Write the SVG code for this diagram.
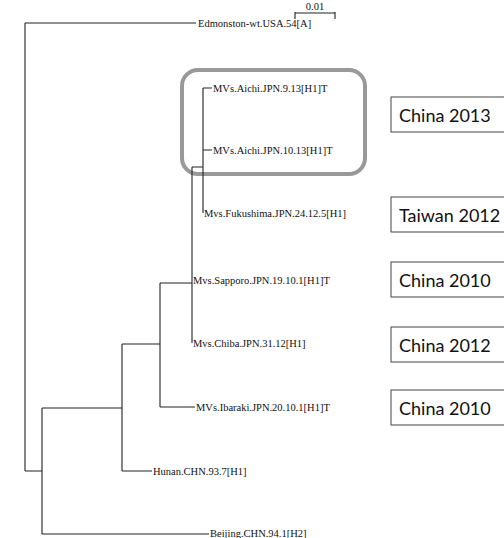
<svg xmlns="http://www.w3.org/2000/svg" width="504" height="538" viewBox="0 0 504 538">
<style>
.br{fill:none;stroke:#222;stroke-width:1.1}
.lb{font-family:"Liberation Serif",serif;font-size:10.5px;fill:#111}
.bx{fill:#fff;stroke:#444;stroke-width:1}
.bt{font-family:Lato,"Open Sans",sans-serif;font-size:18px;fill:#111}
.hl{fill:none;stroke:#999;stroke-width:4}
</style>
<rect width="504" height="538" fill="#fff"/>
<g id="highlight"><rect class="hl" x="182" y="70" width="183" height="104" rx="16"/></g>
<g id="connectors">
<path class="br" d="M25,23H196 M25,23V471 M25,471H42 M42,408V534 M42,534H209 M42,408H122 M122,344V471 M122,471H152 M122,344H160 M160,283V407 M160,407H195 M160,283H192 M192,167V343 M192,167H203 M203,88V213 M203,88H212 M203,150H212"/>
</g>
<g id="scalebar">
<path class="br" d="M295,12V19 M295,13H335 M335,12V19"/>
<text class="lb" x="315" y="10" text-anchor="middle">0.01</text>
</g>
<g id="n-edmonston"><text class="lb" x="198" y="27">Edmonston-wt.USA.54[A]</text></g>
<g id="n-aichi913"><text class="lb" x="213" y="92">MVs.Aichi.JPN.9.13[H1]T</text></g>
<g id="n-aichi1013"><text class="lb" x="213" y="154">MVs.Aichi.JPN.10.13[H1]T</text></g>
<g id="n-fukushima"><text class="lb" x="204" y="217">Mvs.Fukushima.JPN.24.12.5[H1]</text></g>
<g id="n-sapporo"><text class="lb" x="193" y="284">Mvs.Sapporo.JPN.19.10.1[H1]T</text></g>
<g id="n-chiba"><text class="lb" x="193" y="347">Mvs.Chiba.JPN.31.12[H1]</text></g>
<g id="n-ibaraki"><text class="lb" x="196" y="411">MVs.Ibaraki.JPN.20.10.1[H1]T</text></g>
<g id="n-hunan"><text class="lb" x="153" y="475">Hunan.CHN.93.7[H1]</text></g>
<g id="n-beijing"><text class="lb" x="210" y="537">Beijing.CHN.94.1[H2]</text></g>
<g id="b-china2013"><rect class="bx" x="391" y="97" width="130" height="35"/><text class="bt" x="399" y="122">China 2013</text></g>
<g id="b-taiwan2012"><rect class="bx" x="391" y="197" width="130" height="35"/><text class="bt" x="399" y="222">Taiwan 2012</text></g>
<g id="b-china2010a"><rect class="bx" x="391" y="262" width="130" height="35"/><text class="bt" x="399" y="287">China 2010</text></g>
<g id="b-china2012"><rect class="bx" x="391" y="327" width="130" height="35"/><text class="bt" x="399" y="352">China 2012</text></g>
<g id="b-china2010b"><rect class="bx" x="391" y="390" width="130" height="35"/><text class="bt" x="399" y="415">China 2010</text></g>
</svg>
